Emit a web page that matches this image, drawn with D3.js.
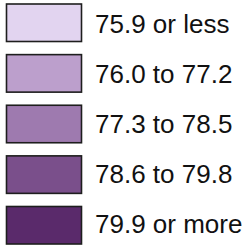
<!DOCTYPE html>
<html>
<head>
<meta charset="utf-8">
<script src="https://cdn.jsdelivr.net/npm/d3@7"></script>
<style>
  body { margin: 0; background: #fff; }
  text { font-family: "Liberation Sans", Arial, sans-serif; }
</style>
</head>
<body>
<svg id="legend" width="248" height="246"></svg>
<script>
// legend classes
var labels = ["75.9 or less", "76.0 to 77.2", "77.3 to 78.5", "78.6 to 79.8", "79.9 or more"]
var colors = ["#e2d4f0", "#bc9fcc", "#9e7aaf", "#7a4f8b", "#5a2a6b"]

var svg = d3.select("#legend")

var boxW = 75, boxH = 37.5

// rows
var yBox = d3.scalePoint().domain(labels).range([4, 206.5])
var yText = d3.scalePoint().domain(labels).range([33.3, 232.7])

svg.append("g")
  .selectAll("rect")
  .data(labels)
  .enter()
  .append("rect")
    .attr("x", 6.5)
    .attr("y", function(d){ return yBox(d) })
    .attr("width", boxW)
    .attr("height", boxH)
    .attr("fill", function(d, i){ return colors[i] })
    .attr("stroke", "#1e1e1e")
    .attr("stroke-width", 1.6)

svg.append("g")
  .selectAll("text")
  .data(labels)
  .enter()
  .append("text")
    .attr("x", 95)
    .attr("y", function(d){ return yText(d) })
    .style("font-size", "26px")
    .style("fill", "#111")
    .text(function(d){ return d })
</script>
</body>
</html>
